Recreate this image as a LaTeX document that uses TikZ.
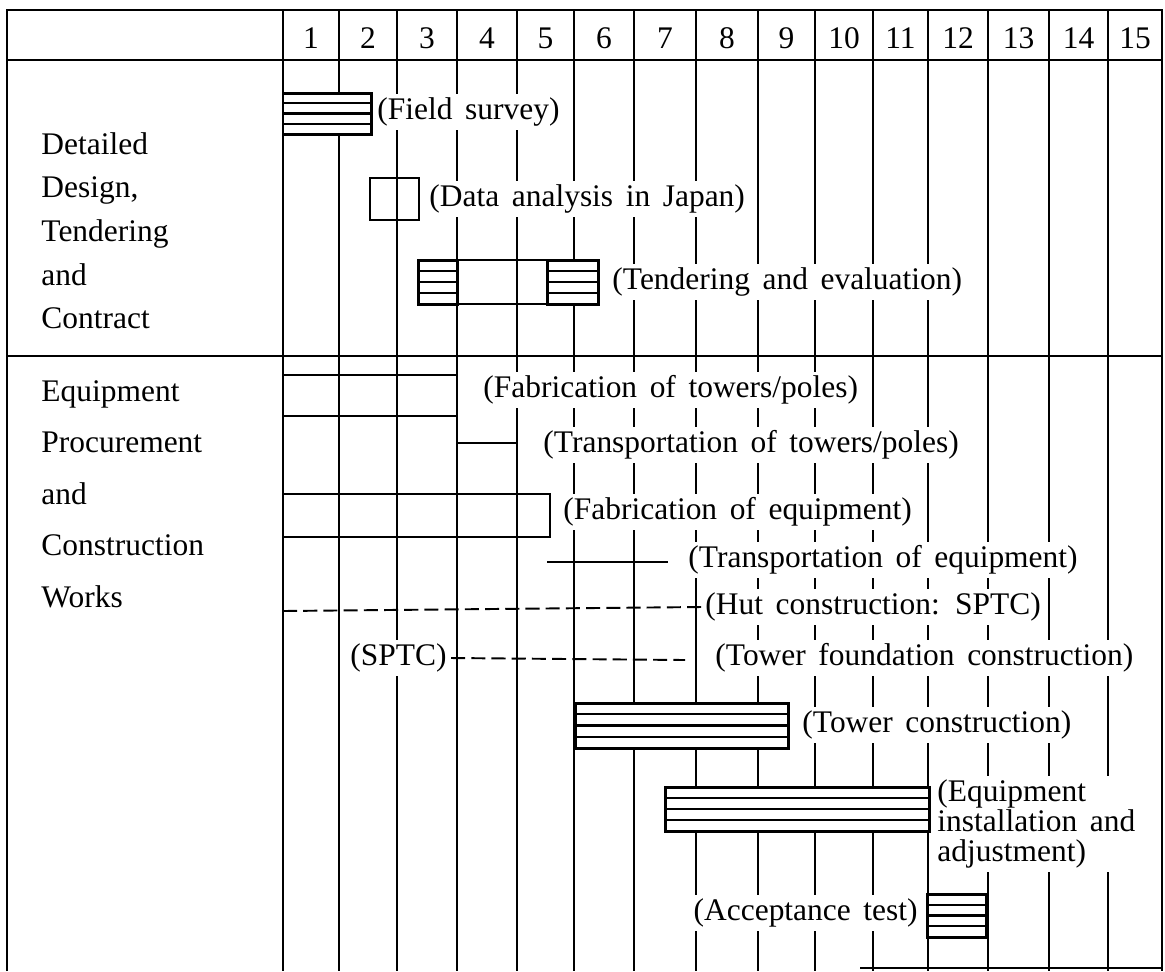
\documentclass[tikz,border=0pt]{standalone}
\usepackage{fontspec}
\setmainfont{Liberation Serif}
\usepackage{tikz}

\newcommand{\chartfont}{\fontsize{17.9}{18.2}\selectfont\spaceskip=0.4em plus 0.1em\relax}

% hatched bar: x1, y1, x2, y2
\newcommand{\hatchbar}[4]{%
  \draw[line width=1.7pt, fill=white] (#1,#2) rectangle (#3,#4);
  \foreach \k in {1,2,3}
    \draw[line width=1.3pt] (#1,{#2+\k*(#4-#2)/4}) -- (#3,{#2+\k*(#4-#2)/4});
}

\begin{document}
\begin{tikzpicture}[x=0.02cm, y=-0.02cm, line width=1.1pt,
  every node/.style={font=\chartfont, inner sep=2pt},
  lbl/.style={anchor=west, fill=white}]

\useasboundingbox (0,0) rectangle (1165,971);

% Frame and rows
\draw (7,971) -- (7,10) -- (1162,10) -- (1162,971);
\draw (7,60) -- (1162,60);
\draw (7,356) -- (1162,356);
\draw (860,968) -- (1162,968);

% Month columns
\foreach \x in {283,339,397,457,517,574,634,696,758,815,873,928,988,1049,1108}
  \draw (\x,10) -- (\x,971);

\foreach \a/\b [count=\m] in {283/339,339/397,397/457,457/517,517/574,574/634,634/696,696/758,758/815,815/873,873/928,928/988,988/1049,1049/1108,1108/1162}
  \node (m\m) at ({(\a+\b)/2},38) {\m};

% Row headings
\foreach \t [count=\i] in {Detailed,{Design,},Tendering,and,Contract}
  \node[anchor=base west] (d\i) at (37,{154+43.7*(\i-1)}) {\t};
\foreach \t [count=\i] in {Equipment,Procurement,and,Construction,Works}
  \node[anchor=base west] (e\i) at (37,{401+51.5*(\i-1)}) {\t};

% Activity labels
\node[lbl] (survey) at (373,112) {(Field survey)};
\node[lbl] (analysis) at (425,199) {(Data analysis in Japan)};
\node[lbl] (tender) at (608,282) {(Tendering and evaluation)};
\node[lbl] (fabtow) at (479,390) {(Fabrication of towers/poles)};
\node[lbl] (trtow) at (539,445) {(Transportation of towers/poles)};
\node[lbl] (fabeq) at (559,512) {(Fabrication of equipment)};
\node[lbl] (treq) at (684,560) {(Transportation of equipment)};
\node[lbl] (hut) at (701,607) {(Hut construction: SPTC)};
\node[lbl] (sptc) at (346,658) {(SPTC)};
\node[lbl] (found) at (711,658) {(Tower foundation construction)};
\node[lbl] (tower) at (798,725) {(Tower construction)};
\node[lbl, align=left] (install) at (933,824) {(Equipment\\[-1pt]installation and\\[-1pt]adjustment)};
\node[anchor=east, fill=white] (accept) at (922,913) {(Acceptance test)};

% Bars
\hatchbar{283}{93}{371}{134}
\draw (370,178) rectangle (419,220);
\hatchbar{418}{260}{457}{304}
\draw (457,260) rectangle (547,304);
\hatchbar{547}{260}{598}{304}

\draw (283,375) rectangle (457,416);
\draw (458,443) -- (517,443);
\draw (283,494) rectangle (550,537);
\draw (547,562) -- (668,562);
\draw[dash pattern=on 8pt off 3.5pt] (283,611) -- (hut.west);
\draw[dash pattern=on 8pt off 3.5pt] (sptc.east) -- (685,660);

\hatchbar{575}{703}{788}{748}
\hatchbar{665}{787}{929}{831}
\hatchbar{927}{894}{986}{937}

\end{tikzpicture}
\end{document}
